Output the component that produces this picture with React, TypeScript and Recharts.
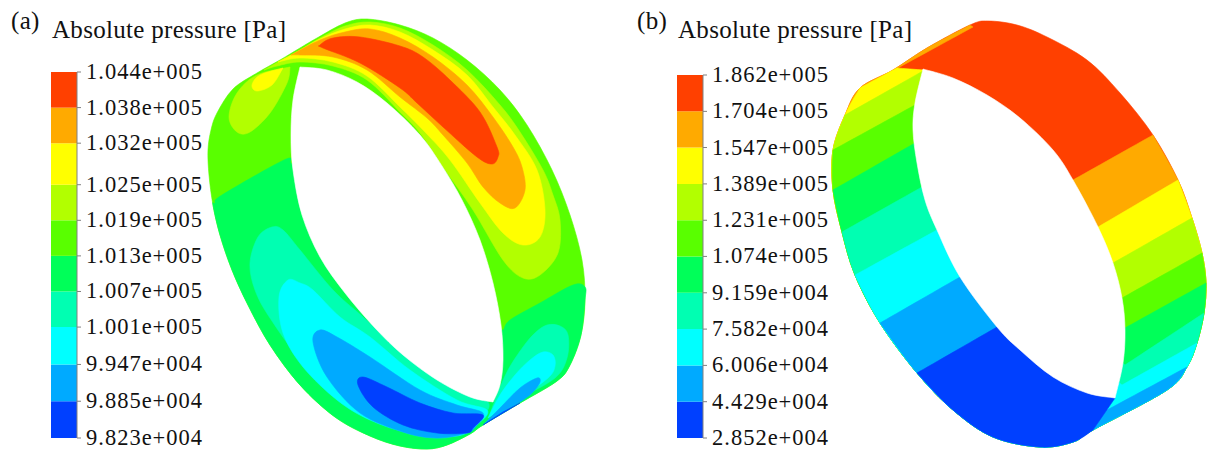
import React from 'react';
import { BarChart, Bar, XAxis, YAxis, ScatterChart, Scatter } from 'recharts';

type Pt = number[];

const RED = '#ff4000';
const ORANGE = '#ffaa00';
const YELLOW = '#ffff00';
const LIME = '#b2ff00';
const GREEN = '#59ff00';
const SPRING = '#00ff59';
const TEAL = '#00ffb2';
const CYAN = '#00ffff';
const SKY = '#00aaff';
const BLUE = '#0040ff';

// colour bar, lowest band first
const bandColors = [BLUE, SKY, CYAN, TEAL, SPRING, GREEN, LIME, YELLOW, ORANGE, RED];
const ticksA = [98230, 98850, 99470, 100100, 100700, 101300, 101900, 102500, 103200, 103800, 104400];
const ticksB = [28520, 44290, 60060, 75820, 91590, 107400, 123100, 138900, 154700, 170400, 186200];

// a point given twice keeps its corner in the spline
const sharp = (x: number, y: number): Pt[] => [[x, y], [x, y]];

// ring (a) contours
const outlineA: Pt[] = [
  [367, 19], [400, 25], [433, 38], [467, 60], [500, 90], [527, 125], [552, 170], [570, 215], [582, 260],
  [585, 300], [581, 335], [570, 365], [557, 381], [520, 403], [483, 425], [470, 434], [447, 445], [427, 449],
  [400, 446], [370, 436], [335, 417], [300, 385], [270, 345], [248, 305], [232, 270], [220, 235], [213, 205],
  [209, 175], [208, 150], [211, 130], [217, 113], [233, 89], [257, 73], [280, 60], [300, 48], [317, 38], [345, 23],
];
const springA: Pt[] = [
  [215, 203], [222, 195], [284, 160], [291, 163], ...sharp(296, 170), ...sharp(498, 325), [503, 330], [510, 320],
  [540, 303], [573, 285], [585, 287], ...outlineA.slice(9, 27),
];
const tealLeftA: Pt[] = [
  [272, 227], [283, 230], [300, 250], [333, 290], [363, 317], [413, 362], [453, 385], [488, 402], [480, 420],
  [470, 430], [443, 438], [403, 432], [353, 405], [303, 362], [270, 318], [255, 290], [250, 263], [258, 237],
];
const cyanLeftA: Pt[] = [
  [288, 280], [300, 283], [313, 290], [340, 317], [370, 337], [410, 370], [457, 400], [487, 410], [478, 424],
  [457, 436], [410, 433], [370, 420], [337, 400], [303, 367], [283, 333], [279, 297],
];
const skyLeftA: Pt[] = [
  [320, 330], [337, 337], [370, 357], [420, 390], [457, 405], [483, 413], [476, 426], [467, 433], [437, 438],
  [403, 432], [360, 413], [327, 377], [313, 342],
];
const blueLeftA: Pt[] = [
  [363, 377], [387, 387], [420, 403], [453, 413], [483, 415], [473, 428], [467, 433], [437, 433], [403, 425],
  [373, 407], [358, 385],
];
const tealRightA: Pt[] = [
  [547, 325], [560, 326], [568, 335], [567, 358], [555, 378], [520, 398], ...sharp(490, 414), [497, 395], [508, 370],
  [523, 347], [535, 333],
];
const cyanRightA: Pt[] = [
  [543, 352], [553, 355], [555, 366], [548, 378], [520, 398], ...sharp(488, 418), [500, 395], [515, 375], [530, 360],
];
const skyRightA: Pt[] = [
  [537, 378], [540, 382], [533, 392], [520, 402], ...sharp(484, 424), [500, 408], [520, 388],
];
const blueRightA: Pt[] = [...sharp(520, 403), ...sharp(483, 425), ...sharp(503, 412)];
const limeLobeA: Pt[] = [
  ...sharp(290, 67), [257, 75], [237, 93], [229, 117], [237, 132], [250, 132], [270, 113], [287, 83],
];
const yellowLobeA: Pt[] = [...sharp(283, 68), [260, 75], [252, 85], [257, 91], [272, 85]];
const limeTopA: Pt[] = [
  ...sharp(264, 70), [280, 61], [300, 50], [320, 38], [345, 26], [370, 22], [400, 28], [433, 45], [467, 70],
  [500, 105], [520, 132], [543, 170], [553, 195], [560, 220], [558, 253], [540, 275], [523, 278], [503, 260],
  [473, 210], [443, 167], [420, 133], [400, 112], [367, 80], [333, 66], [300, 62], [277, 66],
];
const yellowTopA: Pt[] = [
  ...sharp(278, 62), [295, 53], [320, 39], [345, 29], [370, 25], [400, 32], [433, 50], [467, 75], [493, 107],
  [515, 135], [537, 170], [545, 210], [540, 237], [523, 245], [503, 233], [480, 203], [450, 160], [425, 132],
  [400, 107], [367, 76], [333, 62], [300, 58],
];
const orangeTopA: Pt[] = [
  ...sharp(291, 55), [320, 40], [345, 32], [370, 29], [400, 38], [433, 57], [467, 85], [493, 117], [513, 147],
  [522, 167], [525, 190], [515, 208], [500, 203], [483, 187], [467, 163], [443, 135], [427, 118], [400, 97],
  [367, 70], [333, 57], [300, 55],
];
const redTopA: Pt[] = [
  [320, 45], [333, 38], [360, 37], [400, 46], [423, 57], [450, 80], [480, 112], [497, 147], [498, 157], [492, 164],
  [477, 157], [443, 127], [417, 103], [400, 88], [360, 63], [323, 48],
];
const holeA: Pt[] = [
  ...sharp(300, 67), [327, 70], [357, 82], [387, 103], [420, 135], [442, 166], [462, 200], [480, 240], [493, 283],
  [501, 325], [503, 360], [500, 385], ...sharp(493, 402), [470, 397], [437, 380], [403, 355], [375, 328], [345, 293],
  [320, 257], [302, 215], [293, 170], [291, 135], [293, 100],
];

// ring (b) contours
const outlineB: Pt[] = [
  [988, 21], [1017, 25], [1047, 37], [1087, 60], [1120, 93], [1153, 135], [1178, 180], [1192, 218], [1202, 253],
  [1206, 283], [1204, 313], [1197, 343], [1187, 367], [1167, 390], [1093, 430], [1073, 442], [1040, 447], [993, 437],
  [953, 410], [917, 373], [880, 323], [855, 275], [842, 232], [833, 190], [833, 150], [845, 115], [860, 88],
  [893, 70], [927, 48], [970, 25],
];
// band between the index `right` and `left` of the outline, closed through the hole
const bandB = (right: number, left: number, closing: Pt[]): Pt[] => [
  ...sharp(outlineB[right][0], outlineB[right][1]),
  ...outlineB.slice(right + 1, left),
  ...sharp(outlineB[left][0], outlineB[left][1]),
  ...closing,
];
const orangeB = bandB(5, 29, [...sharp(973, 27), ...sharp(897, 68.5), ...sharp(925, 80), ...sharp(1073, 180)]);
const yellowB = bandB(6, 26, [...sharp(897, 68), ...sharp(923, 70), ...sharp(925, 85), ...sharp(1098, 227)]);
const limeB = bandB(7, 25, [...sharp(923, 71), ...sharp(1113, 263)]);
const greenB = bandB(8, 24, [...sharp(915, 105), ...sharp(1122, 298)]);
const springB = bandB(9, 23, [...sharp(915, 143), ...sharp(1125, 328)]);
const tealB = bandB(10, 22, [...sharp(922, 187), ...sharp(1125, 365)]);
const cyanB = bandB(11, 21, [...sharp(937, 230), ...sharp(1122, 385)]);
const skyB = bandB(12, 20, [...sharp(960, 277), ...sharp(1107, 410)]);
const blueB: Pt[] = [
  ...sharp(1115, 398), ...sharp(1093, 430), ...outlineB.slice(15, 19), ...sharp(917, 373), ...sharp(997, 327),
  ...sharp(1090, 385),
];
const holeB: Pt[] = [
  ...sharp(923, 69), [953, 78], [987, 95], [1020, 118], [1053, 150], [1073, 180], [1098, 227], [1113, 263],
  [1122, 298], [1125, 330], [1123, 363], ...sharp(1115, 398), [1087, 393], [1053, 377], [1020, 350], [997, 327],
  [960, 277], [937, 230], [925, 200], [917, 163], [913, 130], [915, 103],
];

// painted in this order, the holes last
const contours: [Pt[], string][] = [
  [outlineA, GREEN], [springA, SPRING], [tealLeftA, TEAL], [cyanLeftA, CYAN], [skyLeftA, SKY], [blueLeftA, BLUE],
  [tealRightA, TEAL], [cyanRightA, CYAN], [skyRightA, SKY], [blueRightA, BLUE], [limeLobeA, LIME],
  [yellowLobeA, YELLOW], [limeTopA, LIME], [yellowTopA, YELLOW], [orangeTopA, ORANGE], [redTopA, RED],
  [holeA, '#ffffff'],
  [outlineB, RED], [orangeB, ORANGE], [yellowB, YELLOW], [limeB, LIME], [greenB, GREEN], [springB, SPRING],
  [tealB, TEAL], [cyanB, CYAN], [skyB, SKY], [blueB, BLUE], [holeB, '#ffffff'],
];

const SERIF = '"Liberation Serif", serif';
const FRAME = '#808080';

// closed Catmull-Rom through the points the scales handed over
function closedSpline(points: { x: number; y: number }[]) {
  const n = points.length;
  let d = `M${points[0].x},${points[0].y}`;
  for (let i = 0; i < n; i++) {
    const p0 = points[(i - 1 + n) % n];
    const p1 = points[i];
    const p2 = points[(i + 1) % n];
    const p3 = points[(i + 2) % n];
    if (p1.x === p2.x && p1.y === p2.y) continue;
    const c1x = p1.x + (p2.x - p0.x) / 6;
    const c1y = p1.y + (p2.y - p0.y) / 6;
    const c2x = p2.x - (p3.x - p1.x) / 6;
    const c2y = p2.y - (p3.y - p1.y) / 6;
    d += `C${c1x},${c1y} ${c2x},${c2y} ${p2.x},${p2.y}`;
  }
  return d + 'Z';
}

const sciLabel = (v: number) => v.toExponential(3).replace(/e\+(\d+)/, (_, e) => 'e+' + e.padStart(3, '0'));

function ColorBar({ ticks, left, top, height }: { ticks: number[]; left: number; top: number; height: number }) {
  const row: Record<string, number | string> = { name: 'p', base: ticks[0] };
  bandColors.forEach((_, i) => {
    row['b' + i] = ticks[i + 1] - ticks[i];
  });
  const domain = [ticks[0], ticks[ticks.length - 1]];
  return (
    <div style={{ position: 'absolute', left, top: top - 20 }}>
      <BarChart width={165} height={height + 40} data={[row]} margin={{ top: 20, right: 0, bottom: 20, left: 0 }} barCategoryGap={0}>
        <XAxis dataKey="name" orientation="top" height={0} tick={false} tickLine={false} axisLine={{ stroke: FRAME }} />
        <XAxis xAxisId="bottom" dataKey="name" height={0} tick={false} tickLine={false} axisLine={{ stroke: FRAME }} />
        <YAxis
          yAxisId="frame"
          width={0}
          type="number"
          domain={domain}
          allowDataOverflow
          tick={false}
          tickLine={false}
          axisLine={{ stroke: FRAME }}
        />
        <YAxis
          orientation="right"
          width={139}
          type="number"
          domain={domain}
          allowDataOverflow
          ticks={ticks}
          interval={0}
          tickFormatter={sciLabel}
          axisLine={{ stroke: FRAME }}
          tickLine={{ stroke: FRAME }}
          tickSize={4}
          tickMargin={5}
          tick={{ fontFamily: SERIF, fontSize: 22.5, letterSpacing: 1, fill: '#111111', dy: -1 }}
        />
        <Bar dataKey="base" stackId="s" fill="none" isAnimationActive={false} />
        {bandColors.map((c, i) => (
          <Bar key={c} dataKey={'b' + i} stackId="s" fill={c} isAnimationActive={false} />
        ))}
      </BarChart>
    </div>
  );
}

const Caption = ({ x, y, children }: { x: number; y: number; children: React.ReactNode }) => (
  <span style={{ position: 'absolute', left: x, top: y, fontFamily: SERIF, fontSize: 25, letterSpacing: 0.3, lineHeight: '28px', color: '#111', whiteSpace: 'nowrap' }}>
    {children}
  </span>
);

export default function App() {
  return (
    <div style={{ position: 'absolute', left: 0, top: 0, width: 1208, height: 451, background: '#fff', overflow: 'hidden' }}>
      <div style={{ position: 'absolute', left: 0, top: 0 }}>
        <ScatterChart width={1208} height={451} margin={{ top: 0, right: 0, bottom: 0, left: 0 }}>
          <XAxis dataKey="x" type="number" domain={[0, 1208]} hide />
          <YAxis dataKey="y" type="number" domain={[0, 451]} reversed hide />
          {contours.map(([pts, fill], i) => (
            <Scatter
              key={i}
              data={pts.map(([x, y]) => ({ x, y }))}
              isAnimationActive={false}
              shape={() => <g />}
              line={(p: any) => <path d={closedSpline(p.points)} fill={fill} stroke={fill} strokeWidth={0.6} />}
            />
          ))}
        </ScatterChart>
      </div>
      <ColorBar ticks={ticksA} left={51} top={72} height={366} />
      <ColorBar ticks={ticksB} left={677} top={75} height={363} />
      <Caption x={11} y={7}>(a)</Caption>
      <Caption x={52} y={16}>Absolute pressure [Pa]</Caption>
      <Caption x={637} y={7}>(b)</Caption>
      <Caption x={678} y={16}>Absolute pressure [Pa]</Caption>
    </div>
  );
}
